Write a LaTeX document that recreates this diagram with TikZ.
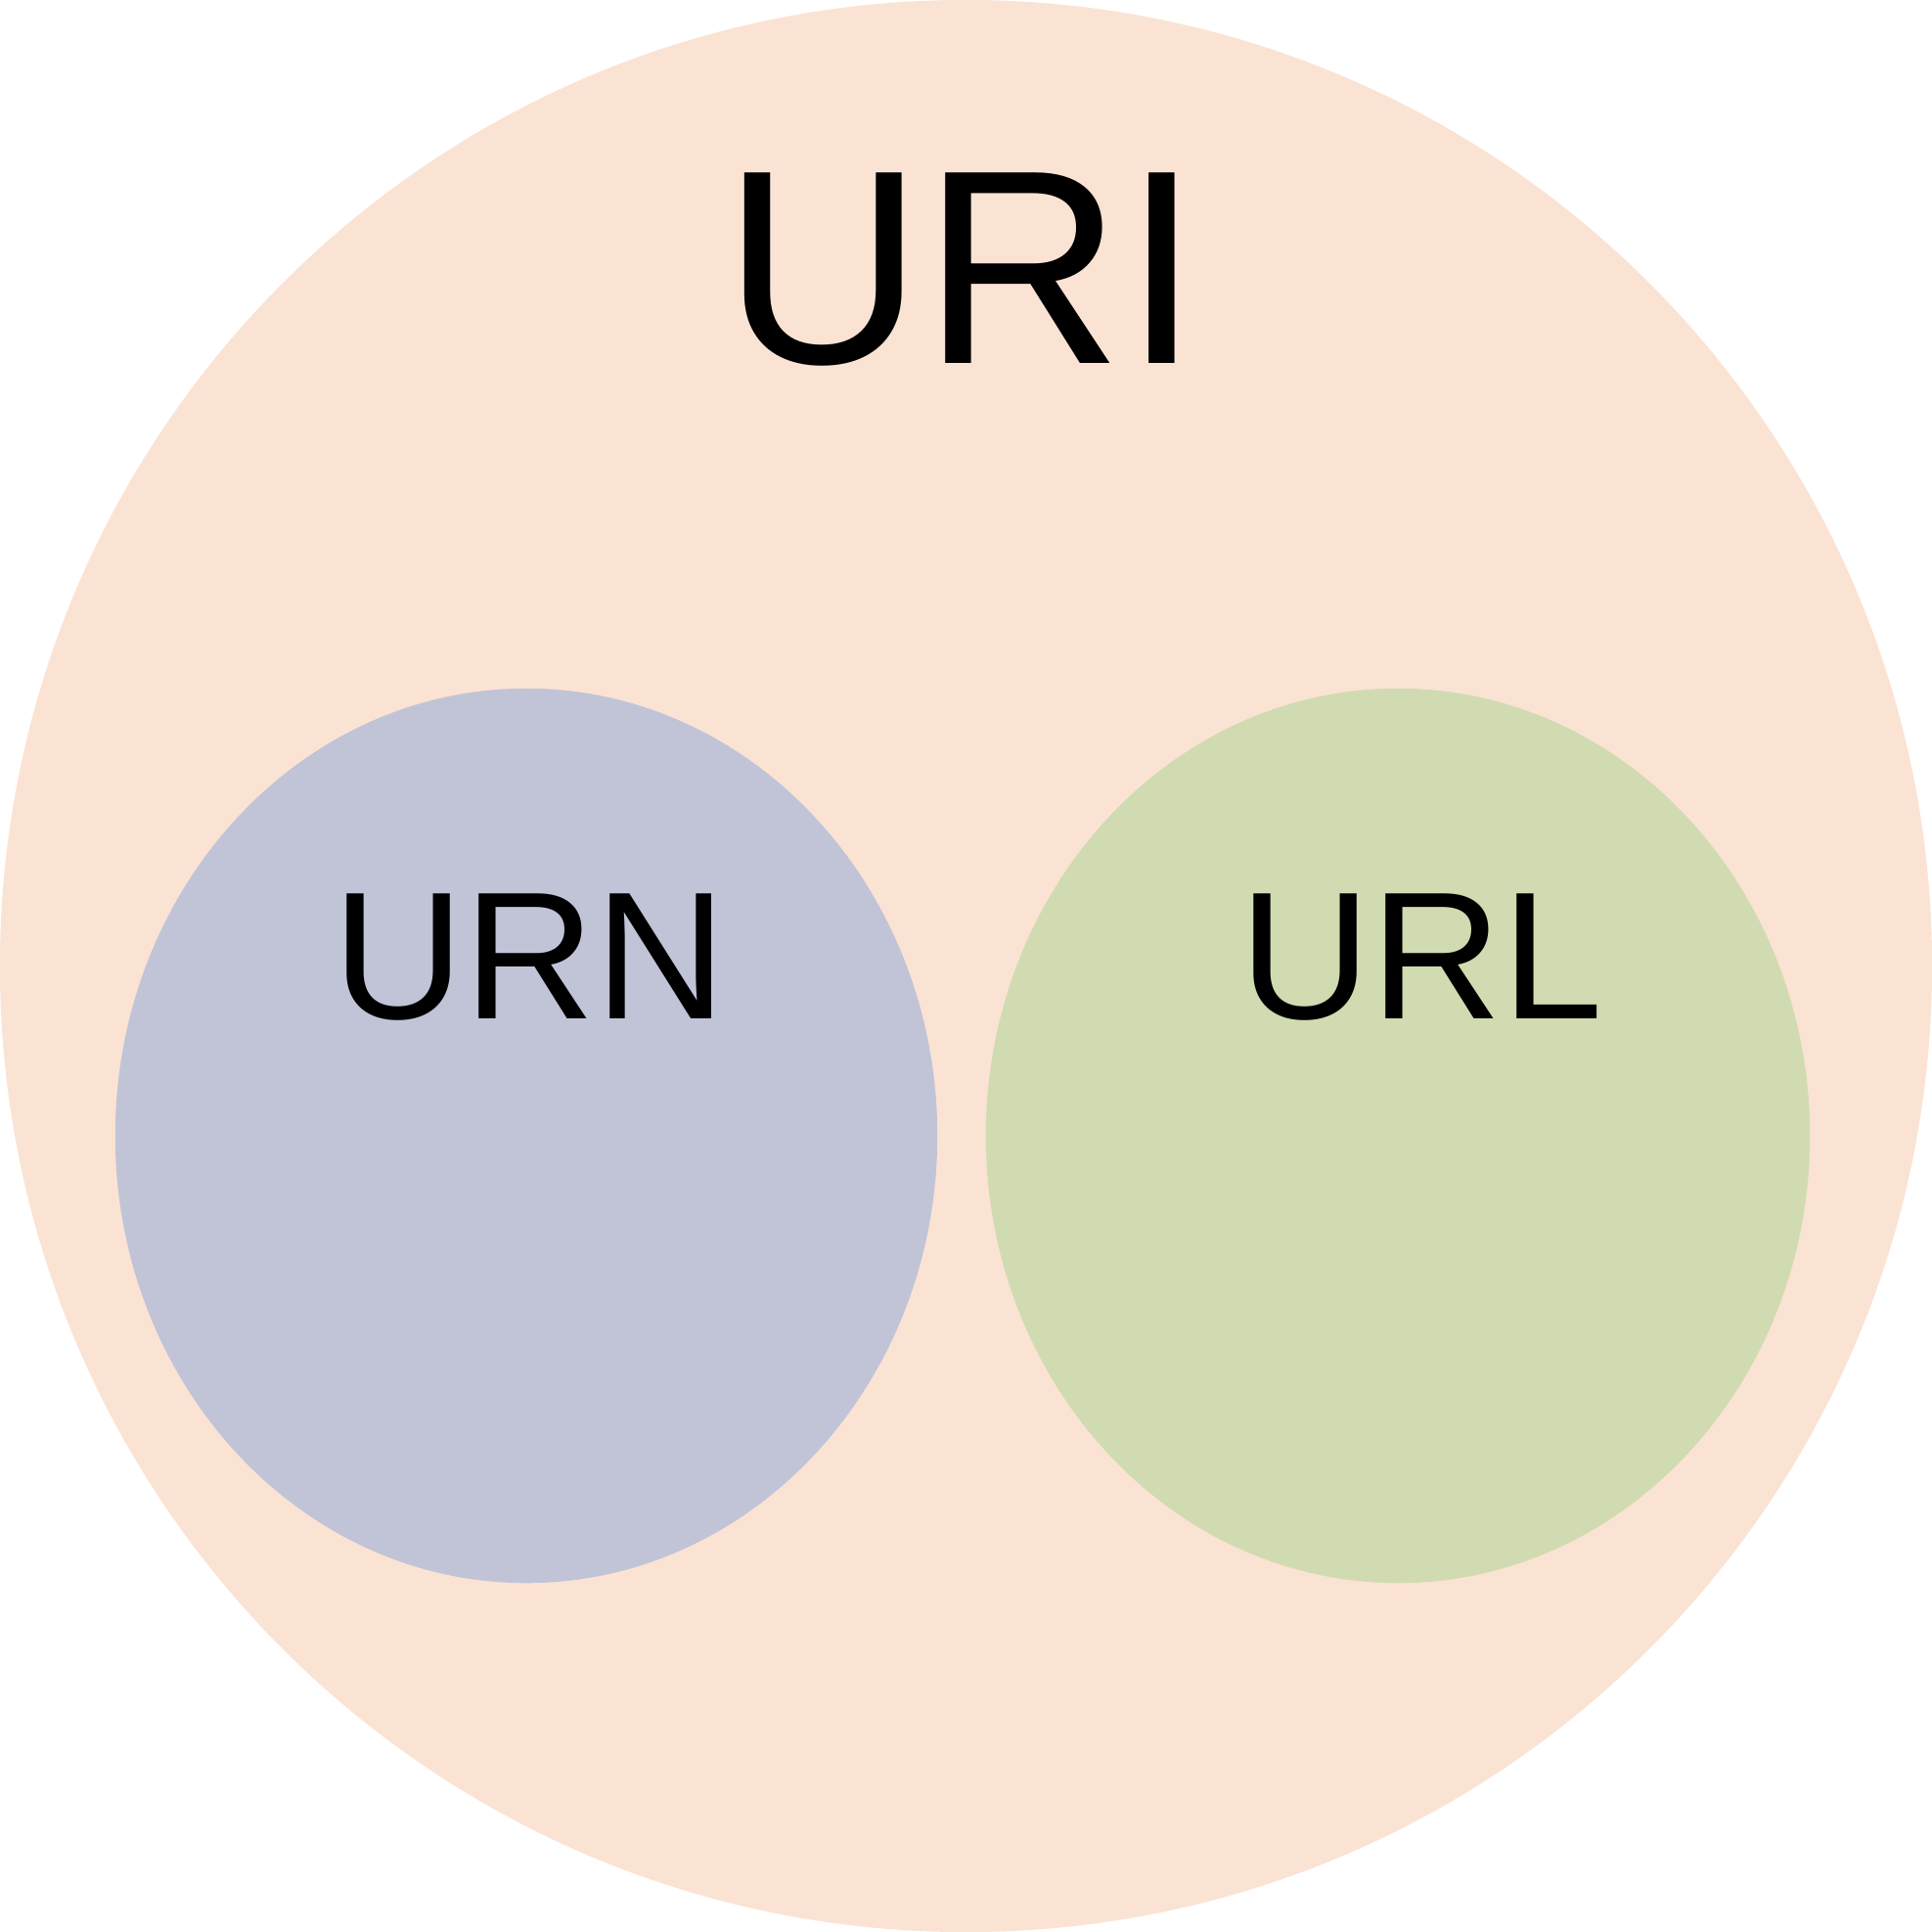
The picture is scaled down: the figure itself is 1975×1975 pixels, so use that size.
\documentclass[tikz,border=0pt]{standalone}
\usepackage{fontspec}
\setmainfont{Liberation Sans}
\usetikzlibrary{shapes.geometric}
\definecolor{uricol}{RGB}{251,227,212}
\definecolor{urncol}{RGB}{193,196,215}
\definecolor{urlcol}{RGB}{209,219,177}
\tikzset{
  setshape/.style={ellipse, draw=none, inner sep=0pt},
  biglabel/.style={anchor=base, inner sep=0pt, font=\fontsize{80.5pt}{82pt}\selectfont},
  smalllabel/.style={anchor=base, inner sep=0pt, font=\fontsize{52.8pt}{55pt}\selectfont},
}
\begin{document}
\begin{tikzpicture}[x=0.01cm,y=-0.01cm]
\useasboundingbox (0,0) rectangle (1975,1975);
\node[setshape, fill=uricol, minimum width=19.74cm, minimum height=19.74cm] (uri) at (987.5,987.5) {};
\node[setshape, fill=urncol, minimum width=8.40cm, minimum height=9.14cm] (urn) at (538,1161) {};
\node[setshape, fill=urlcol, minimum width=8.42cm, minimum height=9.14cm] (url) at (1429,1161) {};
\node[biglabel] (urit) at (983,371) {URI};
\node[smalllabel] (urnt) at (542,1041) {URN};
\node[smalllabel] (urlt) at (1453,1041) {URL};
\end{tikzpicture}
\end{document}
